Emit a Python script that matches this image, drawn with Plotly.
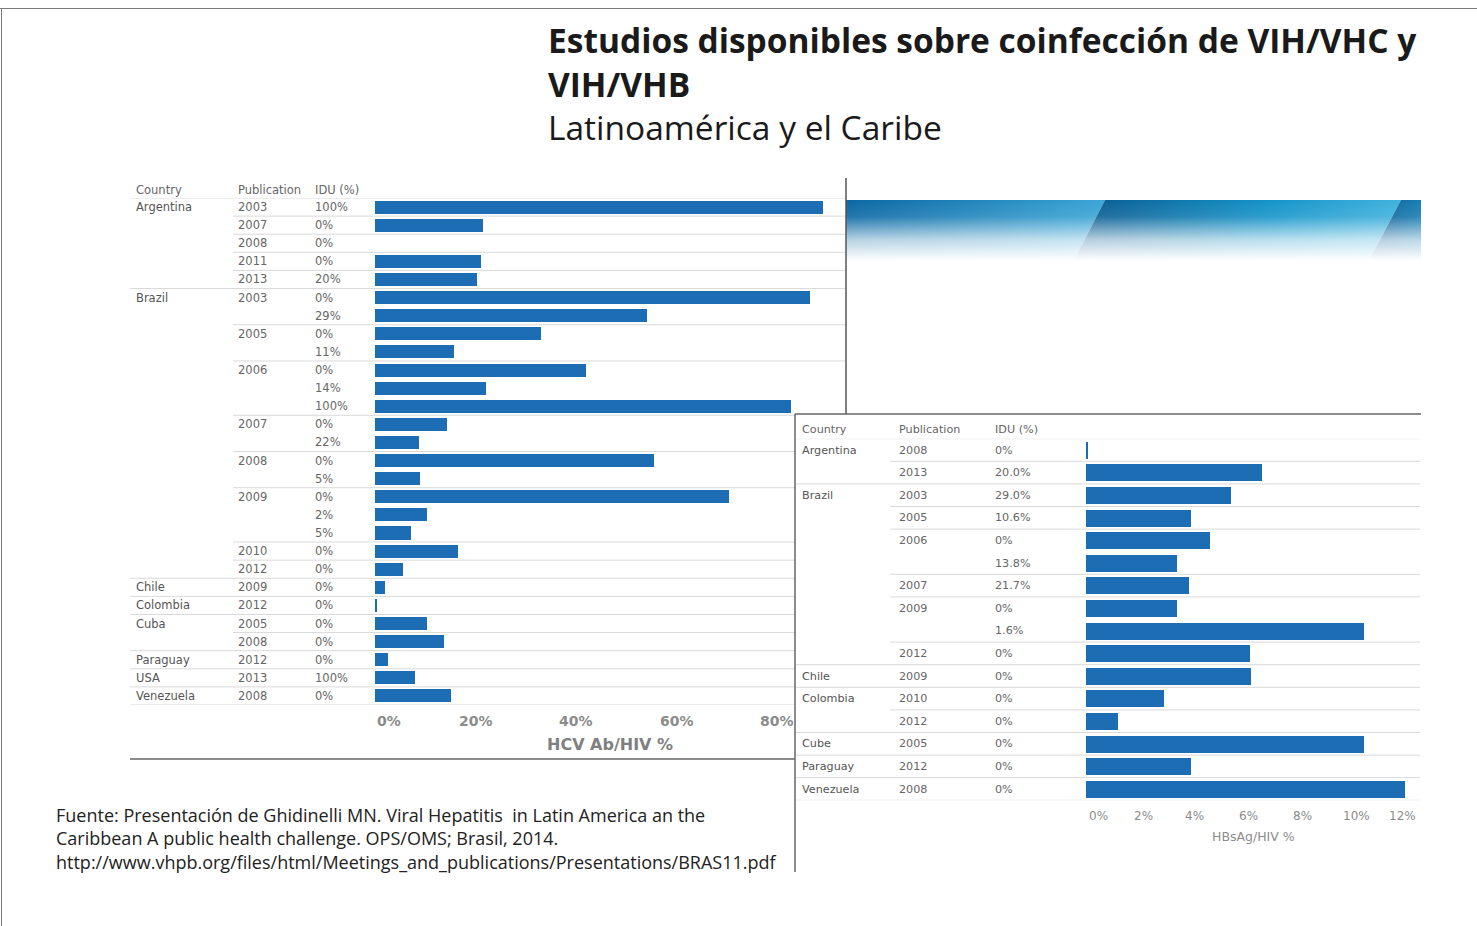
import base64
import plotly.graph_objects as go

# ---------------- DATA ----------------
hcv_country = ["Argentina", "", "", "", "", "Brazil", "", "", "", "", "", "", "", "", "", "", "", "", "", "", "",
               "Chile", "Colombia", "Cuba", "", "Paraguay", "USA", "Venezuela"]
hcv_pub = ["2003", "2007", "2008", "2011", "2013", "2003", "", "2005", "", "2006", "", "", "2007", "", "2008", "",
           "2009", "", "", "2010", "2012", "2009", "2012", "2005", "2008", "2012", "2013", "2008"]
hcv_idu = ["100%", "0%", "0%", "0%", "20%", "0%", "29%", "0%", "11%", "0%", "14%", "100%", "0%", "22%", "0%", "5%",
           "0%", "2%", "5%", "0%", "0%", "0%", "0%", "0%", "0%", "0%", "100%", "0%"]
hcv_vals = [89.0, 21.5, 0.0, 21.0, 20.3, 86.5, 54.0, 33.0, 15.7, 42.0, 22.0, 82.7, 14.3, 8.7, 55.5, 9.0,
            70.4, 10.3, 7.2, 16.5, 5.6, 2.0, 0.4, 10.3, 13.7, 2.6, 8.0, 15.1]
hcv_ticks = [0, 20, 40, 60, 80]

hbv_country = ["Argentina", "", "Brazil", "", "", "", "", "", "", "", "Chile", "Colombia", "", "Cube",
               "Paraguay", "Venezuela"]
hbv_pub = ["2008", "2013", "2003", "2005", "2006", "", "2007", "2009", "", "2012", "2009", "2010", "2012",
           "2005", "2012", "2008"]
hbv_idu = ["0%", "20.0%", "29.0%", "10.6%", "0%", "13.8%", "21.7%", "0%", "1.6%", "0%", "0%", "0%", "0%",
           "0%", "0%", "0%"]
hbv_vals = [0.05, 6.5, 5.37, 3.9, 4.6, 3.37, 3.8, 3.37, 10.3, 6.07, 6.1, 2.9, 1.2, 10.3, 3.9, 11.8]
hbv_ticks = [0, 2, 4, 6, 8, 10, 12]

title_l1 = "Estudios disponibles sobre coinfección de VIH/VHC y"
title_l2 = "VIH/VHB"
subtitle = "Latinoamérica y el Caribe"
footer = ["Fuente: Presentación de Ghidinelli MN. Viral Hepatitis  in Latin America an the",
          "Caribbean A public health challenge. OPS/OMS; Brasil, 2014.",
          "http://www.vhpb.org/files/html/Meetings_and_publications/Presentations/BRAS11.pdf"]

# ---------------- LAYOUT HELPERS ----------------
W, H = 1477, 926
def px(x): return x / W
def py(y): return 1 - y / H

BAR = "#1c6db4"
TXT = "#666666"
SEP = "#d9d9d9"
TFONT = "DejaVu Sans, Verdana, sans-serif"

n1, n2 = len(hcv_vals), len(hbv_vals)

fig = go.Figure()
fig.add_trace(go.Bar(x=hcv_vals, y=list(range(n1)), orientation="h", marker_color=BAR,
                     marker_line_width=0, width=0.72, xaxis="x", yaxis="y", showlegend=False,
                     hoverinfo="x"))
fig.add_trace(go.Bar(x=hbv_vals, y=list(range(n2)), orientation="h", marker_color=BAR,
                     marker_line_width=0, width=0.75, xaxis="x2", yaxis="y2", showlegend=False,
                     hoverinfo="x"))

shapes = []
annotations = []

def table(country, pub, idu, yref, xc, xp, xi, xl, xpl, xr, fs, hrow):
    n = len(country)
    hy = 1 + hrow / n
    for txt, x in (("Country", xc), ("Publication", xp), ("IDU (%)", xi)):
        annotations.append(dict(text=txt, x=px(x), xref="paper", y=hy, yref=yref + " domain", xanchor="left",
                                yanchor="middle", showarrow=False, font=dict(family=TFONT, size=fs, color=TXT)))
    for i in range(n):
        for txt, x, col in ((country[i], xc, "#555555"), (pub[i], xp, TXT), (idu[i], xi, TXT)):
            if txt:
                annotations.append(dict(text=txt, x=px(x), xref="paper", y=i, yref=yref, xanchor="left",
                                        yanchor="middle", showarrow=False,
                                        font=dict(family=TFONT, size=fs, color=col)))
        if i == 0 or country[i]:
            x0 = xl
        elif pub[i]:
            x0 = xpl
        else:
            x0 = None
        if x0 is not None:
            shapes.append(dict(type="line", xref="paper", yref=yref, x0=px(x0), x1=px(xr),
                               y0=i - 0.5, y1=i - 0.5, line=dict(color=SEP, width=1), layer="below"))
    shapes.append(dict(type="line", xref="paper", yref=yref, x0=px(xl), x1=px(xr),
                       y0=n - 0.5, y1=n - 0.5, line=dict(color=SEP, width=1), layer="below"))

# left table
table(hcv_country, hcv_pub, hcv_idu, "y", 134, 236, 313, 130, 233, 845, 11.5, 0.45)

# white cover of the overlapping right panel
shapes.append(dict(type="rect", xref="paper", yref="paper", x0=px(796), x1=px(1440), y0=py(880), y1=py(415),
                   fillcolor="white", line=dict(width=0), layer="below"))

# right table
table(hbv_country, hbv_pub, hbv_idu, "y2", 800, 897, 993, 796, 890, 1420, 11.2, 0.4)

# frame lines
def pline(x0, y0, x1, y1, color, w):
    shapes.append(dict(type="line", xref="paper", yref="paper", x0=px(x0), y0=py(y0), x1=px(x1), y1=py(y1),
                       line=dict(color=color, width=w), layer="above"))

pline(0, 8.5, 1477, 8.5, "#7a7a7a", 1)
pline(1.5, 8, 1.5, 926, "#7a7a7a", 1)
pline(846, 178, 846, 414, "#555555", 1.5)
pline(130, 759, 795, 759, "#666666", 1.5)
pline(795, 414, 1421, 414, "#666666", 1.5)
pline(795, 414, 795, 872, "#666666", 1.5)

# axis tick labels and titles (positioned through the axes)
shift_l = {hcv_ticks[0]: 14}
for t in hcv_ticks:
    annotations.append(dict(text=f"{t}%", x=t, xref="x", y=py(721), yref="paper", xanchor="center",
                            yanchor="middle", showarrow=False, xshift=shift_l.get(t, 0),
                            font=dict(family=TFONT, size=14, color="#8c8c8c", weight="bold")))
annotations.append(dict(text="HCV Ab/HIV %", x=0.5, xref="x domain", y=py(744), yref="paper",
                        xanchor="center", yanchor="middle", showarrow=False,
                        font=dict(family=TFONT, size=16, color="#808080", weight="bold")))
shift_r = {hbv_ticks[0]: 12, hbv_ticks[1]: 3, hbv_ticks[-1]: -8}
for t in hbv_ticks:
    annotations.append(dict(text=f"{t}%", x=t, xref="x2", y=py(816), yref="paper", xanchor="center",
                            yanchor="middle", showarrow=False, xshift=shift_r.get(t, 0),
                            font=dict(family=TFONT, size=12, color="#8c8c8c")))
annotations.append(dict(text="HBsAg/HIV %", x=0.5, xref="x2 domain", y=py(836), yref="paper",
                        xanchor="center", yanchor="middle", showarrow=False,
                        font=dict(family=TFONT, size=12.5, color="#8c8c8c")))

# title block (one multi-line text)
annotations.append(dict(text="<b>" + title_l1 + "</b><br><b>" + title_l2 + "</b><br>" + subtitle,
                        x=px(546), y=py(84), xref="paper", yref="paper", align="left",
                        xanchor="left", yanchor="middle", showarrow=False,
                        font=dict(family="Open Sans", size=33.5, color="#1a1a1a")))
# footer block
annotations.append(dict(text="<br>".join(footer), x=px(54), y=py(838), xref="paper", yref="paper",
                        align="left", xanchor="left", yanchor="middle", showarrow=False,
                        font=dict(family="Open Sans", size=18, color="#222222")))

# banner image (gradient)
svg = """<svg xmlns='http://www.w3.org/2000/svg' width='575' height='66' viewBox='0 0 575 66' preserveAspectRatio='none'>
<defs>
<linearGradient id='a' x1='0' y1='0' x2='1' y2='0'><stop offset='0' stop-color='#0b67a3'/><stop offset='1' stop-color='#3aa6d6'/></linearGradient>
<linearGradient id='b' x1='0' y1='0' x2='1' y2='0'><stop offset='0' stop-color='#09578c'/><stop offset='0.6' stop-color='#1594c9'/><stop offset='1' stop-color='#40b2dd'/></linearGradient>
<linearGradient id='c' x1='0' y1='0' x2='1' y2='0'><stop offset='0' stop-color='#09578c'/><stop offset='1' stop-color='#1a7fb5'/></linearGradient>
<linearGradient id='f' x1='0' y1='0' x2='0' y2='1'><stop offset='0' stop-color='#fff' stop-opacity='0'/><stop offset='0.25' stop-color='#fff' stop-opacity='0.1'/><stop offset='0.6' stop-color='#fff' stop-opacity='0.7'/><stop offset='0.92' stop-color='#fff' stop-opacity='1'/></linearGradient>
</defs>
<polygon points='0,0 259,0 225,66 0,66' fill='url(#a)'/>
<polygon points='259,0 555,0 520,66 225,66' fill='url(#b)'/>
<polygon points='555,0 575,0 575,66 520,66' fill='url(#c)'/>
<rect width='575' height='66' fill='url(#f)'/>
</svg>"""
src = "data:image/svg+xml;base64," + base64.b64encode(svg.encode()).decode()

fig.update_layout(
    width=W, height=H, autosize=False, margin=dict(l=0, r=0, t=0, b=0, pad=0),
    paper_bgcolor="white", plot_bgcolor="rgba(0,0,0,0)",
    bargap=0, showlegend=False,
    xaxis=dict(domain=[px(375), px(845)], range=[0, 470 / 5.03], anchor="y", showticklabels=False,
               showgrid=False, zeroline=False, showline=False, ticks=""),
    yaxis=dict(domain=[py(705), py(198)], range=[n1 - 0.5, -0.5], anchor="x",
               showticklabels=False, showgrid=False, zeroline=False, showline=False),
    xaxis2=dict(domain=[px(1086), px(1420)], range=[0, 334 / 27], anchor="y2", showticklabels=False,
                showgrid=False, zeroline=False, showline=False, ticks=""),
    yaxis2=dict(domain=[py(800.3), py(438.7)], range=[n2 - 0.5, -0.5], anchor="x2",
                showticklabels=False, showgrid=False, zeroline=False, showline=False),
    shapes=shapes,
    annotations=annotations,
    images=[dict(source=src, xref="paper", yref="paper", x=px(846), y=py(200),
                 sizex=575 / W, sizey=66 / H, sizing="stretch", xanchor="left", yanchor="top",
                 layer="below")],
)

fig.write_html("out.html", config={"responsive": False, "displayModeBar": False})

# remove default page margins so the figure sits at the window origin
with open("out.html", "r", encoding="utf-8") as f:
    html = f.read()
html = html.replace("<head>", "<head><style>html,body{margin:0;padding:0;overflow:hidden;}</style>", 1)
with open("out.html", "w", encoding="utf-8") as f:
    f.write(html)
